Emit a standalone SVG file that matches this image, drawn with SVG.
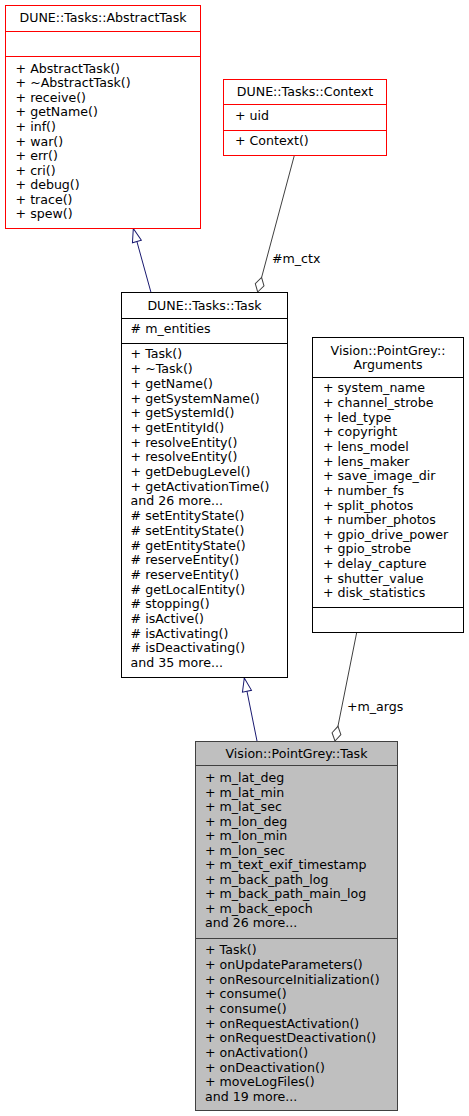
<svg xmlns="http://www.w3.org/2000/svg" width="469" height="1116" viewBox="0 0 469 1116">
<style>
  text { font-family: "DejaVu Sans", sans-serif; font-size: 12.6px; fill: #000; }
  .c { text-anchor: middle; }
  .box { fill: #fff; stroke: #000; stroke-width: 1; }
  .red { fill: #fff; stroke: #ff0000; stroke-width: 1; }
  .main { fill: #bfbfbf; stroke: #404040; stroke-width: 1; }
  .inh { fill: none; stroke: #191970; stroke-width: 1; }
  .agg { fill: none; stroke: #404040; stroke-width: 1; }
</style>
<defs>
  <marker id="tri" markerUnits="userSpaceOnUse" markerWidth="18" markerHeight="14" viewBox="-16 -7 18 14" refX="0" refY="0" orient="auto">
    <path d="M0,0 L-13.5,-4.6 L-13.5,4.6 Z" fill="#fff" stroke="#191970" stroke-width="1"/>
  </marker>
  <marker id="dia" markerUnits="userSpaceOnUse" markerWidth="18" markerHeight="14" viewBox="-17 -7 18 14" refX="0" refY="0" orient="auto">
    <path d="M0,0 L-7.5,-4.5 L-15,0 L-7.5,4.5 Z" fill="#fff" stroke="#404040" stroke-width="1"/>
  </marker>
</defs>

<g id="connectors">
  <path class="inh" d="M151,292.5 L133.3,228.5" marker-end="url(#tri)"/>
  <path class="inh" d="M257,741 L244.3,678" marker-end="url(#tri)"/>
  <path class="agg" d="M294.3,155.5 L257.7,292" marker-end="url(#dia)"/>
  <text x="272" y="263">#m_ctx</text>
  <path class="agg" d="M356.7,632.5 L335,741" marker-end="url(#dia)"/>
  <text x="347" y="711">+m_args</text>
</g>

<g id="AbstractTask">
  <rect class="red" x="5.5" y="5.5" width="195" height="223"/>
  <line class="red" x1="5.5" y1="31.5" x2="200.5" y2="31.5"/>
  <line class="red" x1="5.5" y1="56.5" x2="200.5" y2="56.5"/>
  <text class="c" x="103" y="22">DUNE::Tasks::AbstractTask</text>
  <text x="15.6" y="72.7">+ AbstractTask()</text>
  <text x="15.6" y="87.27">+ ~AbstractTask()</text>
  <text x="15.6" y="101.84">+ receive()</text>
  <text x="15.6" y="116.41">+ getName()</text>
  <text x="15.6" y="130.98">+ inf()</text>
  <text x="15.6" y="145.55">+ war()</text>
  <text x="15.6" y="160.12">+ err()</text>
  <text x="15.6" y="174.69">+ cri()</text>
  <text x="15.6" y="189.26">+ debug()</text>
  <text x="15.6" y="203.83">+ trace()</text>
  <text x="15.6" y="218.4">+ spew()</text>
</g>

<g id="Context">
  <rect class="red" x="223.5" y="79.5" width="163" height="76"/>
  <line class="red" x1="223.5" y1="104.5" x2="386.5" y2="104.5"/>
  <line class="red" x1="223.5" y1="130.5" x2="386.5" y2="130.5"/>
  <text class="c" x="305" y="96">DUNE::Tasks::Context</text>
  <text x="235" y="120.4">+ uid</text>
  <text x="235" y="145.4">+ Context()</text>
</g>

<g id="Task">
  <rect class="box" x="121.5" y="292.5" width="166" height="385"/>
  <line class="box" x1="121.5" y1="318.5" x2="287.5" y2="318.5"/>
  <line class="box" x1="121.5" y1="343.5" x2="287.5" y2="343.5"/>
  <text class="c" x="204.5" y="310">DUNE::Tasks::Task</text>
  <text x="130.6" y="333.4"># m_entities</text>
  <text x="130.6" y="358.4">+ Task()</text>
  <text x="130.6" y="373.1">+ ~Task()</text>
  <text x="130.6" y="387.8">+ getName()</text>
  <text x="130.6" y="402.5">+ getSystemName()</text>
  <text x="130.6" y="417.2">+ getSystemId()</text>
  <text x="130.6" y="431.9">+ getEntityId()</text>
  <text x="130.6" y="446.6">+ resolveEntity()</text>
  <text x="130.6" y="461.3">+ resolveEntity()</text>
  <text x="130.6" y="476.0">+ getDebugLevel()</text>
  <text x="130.6" y="490.7">+ getActivationTime()</text>
  <text x="130.6" y="505.4">and 26 more...</text>
  <text x="130.6" y="520.1"># setEntityState()</text>
  <text x="130.6" y="534.8"># setEntityState()</text>
  <text x="130.6" y="549.5"># getEntityState()</text>
  <text x="130.6" y="564.2"># reserveEntity()</text>
  <text x="130.6" y="578.9"># reserveEntity()</text>
  <text x="130.6" y="593.6"># getLocalEntity()</text>
  <text x="130.6" y="608.3"># stopping()</text>
  <text x="130.6" y="623.0"># isActive()</text>
  <text x="130.6" y="637.7"># isActivating()</text>
  <text x="130.6" y="652.4"># isDeactivating()</text>
  <text x="130.6" y="667.1">and 35 more...</text>
</g>

<g id="Arguments">
  <rect class="box" x="312.5" y="337.5" width="151" height="295"/>
  <line class="box" x1="312.5" y1="377.5" x2="463.5" y2="377.5"/>
  <line class="box" x1="312.5" y1="607.5" x2="463.5" y2="607.5"/>
  <text class="c" x="388" y="354.5">Vision::PointGrey::</text>
  <text class="c" x="388" y="369">Arguments</text>
  <text x="323" y="392.4">+ system_name</text>
  <text x="323" y="407.04">+ channel_strobe</text>
  <text x="323" y="421.68">+ led_type</text>
  <text x="323" y="436.32">+ copyright</text>
  <text x="323" y="450.96">+ lens_model</text>
  <text x="323" y="465.6">+ lens_maker</text>
  <text x="323" y="480.24">+ save_image_dir</text>
  <text x="323" y="494.88">+ number_fs</text>
  <text x="323" y="509.52">+ split_photos</text>
  <text x="323" y="524.16">+ number_photos</text>
  <text x="323" y="538.8">+ gpio_drive_power</text>
  <text x="323" y="553.44">+ gpio_strobe</text>
  <text x="323" y="568.08">+ delay_capture</text>
  <text x="323" y="582.72">+ shutter_value</text>
  <text x="323" y="597.36">+ disk_statistics</text>
</g>

<g id="PointGreyTask">
  <rect class="main" x="195.5" y="741.5" width="202" height="369"/>
  <line class="main" x1="195.5" y1="765.5" x2="397.5" y2="765.5"/>
  <line class="main" x1="195.5" y1="938.5" x2="397.5" y2="938.5"/>
  <text class="c" x="296.5" y="757.5">Vision::PointGrey::Task</text>
  <text x="205" y="782.4">+ m_lat_deg</text>
  <text x="205" y="796.9">+ m_lat_min</text>
  <text x="205" y="811.4">+ m_lat_sec</text>
  <text x="205" y="825.9">+ m_lon_deg</text>
  <text x="205" y="840.4">+ m_lon_min</text>
  <text x="205" y="854.9">+ m_lon_sec</text>
  <text x="205" y="869.4">+ m_text_exif_timestamp</text>
  <text x="205" y="883.9">+ m_back_path_log</text>
  <text x="205" y="898.4">+ m_back_path_main_log</text>
  <text x="205" y="912.9">+ m_back_epoch</text>
  <text x="205" y="927.4">and 26 more...</text>
  <text x="205" y="954.4">+ Task()</text>
  <text x="205" y="969.05">+ onUpdateParameters()</text>
  <text x="205" y="983.7">+ onResourceInitialization()</text>
  <text x="205" y="998.35">+ consume()</text>
  <text x="205" y="1013.0">+ consume()</text>
  <text x="205" y="1027.65">+ onRequestActivation()</text>
  <text x="205" y="1042.3">+ onRequestDeactivation()</text>
  <text x="205" y="1056.95">+ onActivation()</text>
  <text x="205" y="1071.6">+ onDeactivation()</text>
  <text x="205" y="1086.25">+ moveLogFiles()</text>
  <text x="205" y="1100.9">and 19 more...</text>
</g>
</svg>
